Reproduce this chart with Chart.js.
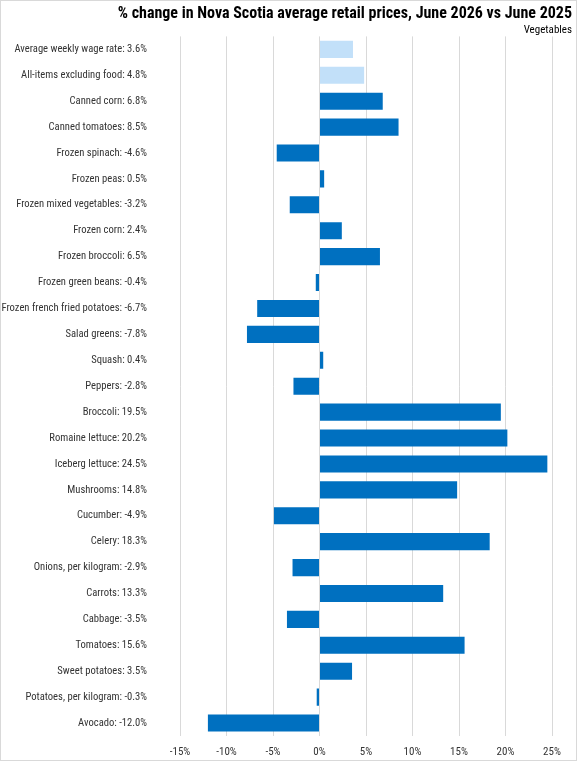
<!DOCTYPE html>
<html>
<head>
<meta charset="utf-8">
<script src="https://cdn.jsdelivr.net/npm/chart.js@4"></script>
<style>
  html, body { margin: 0; padding: 0; background: #fff; }
  #wrap { position: relative; width: 575px; height: 759px; border: 1px solid #d9d9d9; }
</style>
</head>
<body>
<div id="wrap"><canvas id="grafico"></canvas></div>
<script>
// categories, top to bottom
const categories = [
  "Average weekly wage rate", "All-items excluding food", "Canned corn", "Canned tomatoes",
  "Frozen spinach", "Frozen peas", "Frozen mixed vegetables", "Frozen corn",
  "Frozen broccoli", "Frozen green beans", "Frozen french fried potatoes", "Salad greens",
  "Squash", "Peppers", "Broccoli", "Romaine lettuce", "Iceberg lettuce", "Mushrooms",
  "Cucumber", "Celery", "Onions, per kilogram", "Carrots", "Cabbage", "Tomatoes",
  "Sweet potatoes", "Potatoes, per kilogram", "Avocado"
];
// % change, June 2026 vs June 2025
const pctChange = [
  3.6, 4.8, 6.8, 8.5, -4.6, 0.5, -3.2, 2.4, 6.5, -0.4, -6.7, -7.8, 0.4, -2.8,
  19.5, 20.2, 24.5, 14.8, -4.9, 18.3, -2.9, 13.3, -3.5, 15.6, 3.5, -0.3, -12.0
];
// the first two rows are reference series (lighter blue)
const isReference = [true, true];
const xTicks = [-15, -10, -5, 0, 5, 10, 15, 20, 25];

const labels = categories.map((c, i) => c + ": " + pctChange[i].toFixed(1) + "%");
const colors = pctChange.map((v, i) => isReference[i] ? "#c2e0f9" : "#0070c0");

const narrow = "'Liberation Sans Narrow', 'Roboto Condensed', 'Liberation Sans', sans-serif";

new Chart(document.getElementById("grafico"), {
  type: "bar",
  data: {
    labels: labels,
    datasets: [{
      data: pctChange,
      backgroundColor: colors,
      borderWidth: 0,
      categoryPercentage: 1,
      barPercentage: 0.66
    }]
  },
  options: {
    indexAxis: "y",
    responsive: true,
    maintainAspectRatio: false,
    animation: false,
    layout: { padding: { left: 0, right: 4, top: 2, bottom: 0 } },
    scales: {
      x: {
        min: xTicks[0],
        max: xTicks[xTicks.length - 1],
        afterBuildTicks: (s) => { s.ticks = xTicks.map(v => ({ value: v })); },
        afterFit: (s) => { s.paddingRight = 24; s.paddingLeft = 0; s.height = 24; },
        grid: { color: "#d9d9d9", drawTicks: false },
        border: { display: false },
        ticks: {
          padding: 10,
          color: "#333",
          font: { family: narrow, size: 11 },
          callback: (v) => v + "%"
        }
      },
      y: {
        afterFit: (s) => { s.width = 179; s.paddingTop = 0; s.paddingBottom = 0; },
        grid: { display: false },
        border: { display: false },
        ticks: {
          padding: 25,
          autoSkip: false,
          color: "#333",
          font: { family: narrow, size: 10.6 }
        }
      }
    },
    plugins: {
      legend: { display: false },
      tooltip: { enabled: false },
      title: {
        display: true,
        text: "% change in Nova Scotia average retail prices, June 2026 vs June 2025",
        align: "end",
        color: "#000",
        font: { family: narrow, size: 16, weight: "bold" },
        padding: { top: 1, bottom: 0 }
      },
      subtitle: {
        display: true,
        text: "Vegetables",
        align: "end",
        color: "#000",
        font: { family: narrow, size: 11 },
        padding: { top: 0, bottom: 0 }
      }
    }
  }
});
</script>
</body>
</html>
